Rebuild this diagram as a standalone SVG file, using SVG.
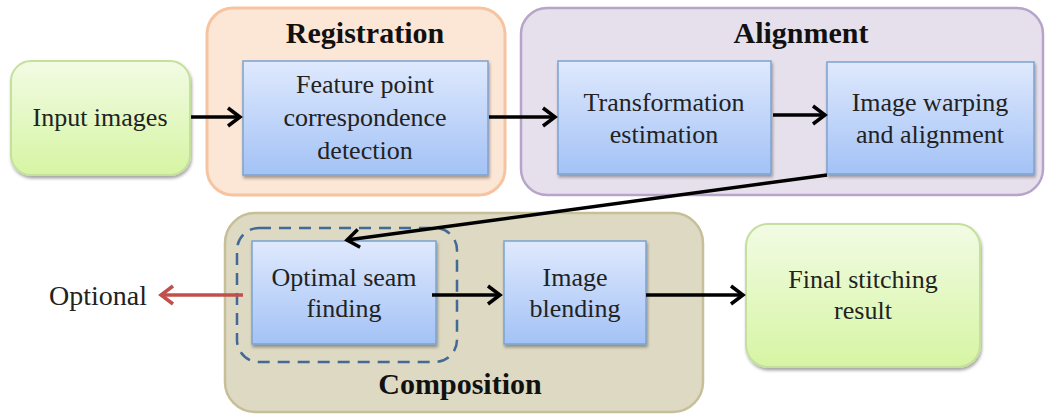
<svg xmlns="http://www.w3.org/2000/svg" width="1047" height="416" viewBox="0 0 1047 416">
<style>
  .t { font-size: 26px; fill: #222; text-anchor: middle; }
  .h { font-size: 30px; font-weight: bold; fill: #111; text-anchor: middle; }
  .blue { fill: url(#gBlue); stroke: #7ea3cf; stroke-width: 1.5; filter: url(#sh); }
  .green { fill: url(#gGreen); stroke: #c5df9c; stroke-width: 2; filter: url(#sh); }
  .conn { stroke: #000; stroke-width: 3.5; fill: none; marker-end: url(#arr); }
  .red { stroke: #c0504d; stroke-width: 3.5; fill: none; marker-end: url(#arrRed); }
</style>
<defs>
  <linearGradient id="gBlue" x1="0" y1="0" x2="0" y2="1">
    <stop offset="0" stop-color="#dfe9fd"/>
    <stop offset="1" stop-color="#a3c2f6"/>
  </linearGradient>
  <linearGradient id="gGreen" x1="0" y1="0" x2="0" y2="1">
    <stop offset="0" stop-color="#f2fbe4"/>
    <stop offset="1" stop-color="#d6f5a3"/>
  </linearGradient>
  <filter id="sh" x="-10%" y="-10%" width="120%" height="130%">
    <feDropShadow dx="1" dy="2.5" stdDeviation="1.5" flood-color="#000" flood-opacity="0.35"/>
  </filter>
  <marker id="arr" markerUnits="userSpaceOnUse" markerWidth="20" markerHeight="24" viewBox="-16 -12 20 24" refX="0" refY="0" orient="auto">
    <path d="M-12,-9 L0,0 L-12,9" fill="none" stroke="#000" stroke-width="3.5"/>
  </marker>
  <marker id="arrRed" markerUnits="userSpaceOnUse" markerWidth="20" markerHeight="24" viewBox="-16 -12 20 24" refX="0" refY="0" orient="auto">
    <path d="M-12,-9 L0,0 L-12,9" fill="none" stroke="#c0504d" stroke-width="3.5"/>
  </marker>
</defs>
<rect width="1047" height="416" fill="#ffffff"/>

<g font-family="Liberation Serif, Times New Roman, Times, serif">
<g id="registration">
  <rect x="207" y="8" width="298" height="187" rx="26" fill="#fce6d6" stroke="#f6c4a1" stroke-width="3"/>
  <text class="h" x="365" y="43">Registration</text>
</g>
<g id="alignment">
  <rect x="521" y="8" width="522" height="187" rx="26" fill="#e6e0ec" stroke="#b6a5c9" stroke-width="2.5"/>
  <text class="h" x="801" y="43">Alignment</text>
</g>
<g id="composition">
  <rect x="225" y="213" width="478" height="199" rx="30" fill="#ddd9c3" stroke="#c6bf98" stroke-width="2.5"/>
  <text class="h" x="460" y="394">Composition</text>
</g>
<g id="optional-group">
  <rect x="237" y="228" width="220" height="134" rx="22" fill="none" stroke="#426a95" stroke-width="2.5" stroke-dasharray="12 8"/>
</g>

<g id="input-images">
  <rect class="green" x="11" y="61" width="179" height="114" rx="20"/>
  <text class="t" x="100" y="126">Input images</text>
</g>
<g id="feature-point">
  <rect class="blue" x="243" y="61" width="245" height="114"/>
  <text class="t" x="365" y="93">Feature point</text>
  <text class="t" x="365" y="126">correspondence</text>
  <text class="t" x="365" y="159">detection</text>
</g>
<g id="transformation">
  <rect class="blue" x="558" y="61" width="213" height="113"/>
  <text class="t" x="664" y="111">Transformation</text>
  <text class="t" x="664" y="143">estimation</text>
</g>
<g id="image-warping">
  <rect class="blue" x="827" y="62" width="207" height="112"/>
  <text class="t" x="930" y="111">Image warping</text>
  <text class="t" x="930" y="143">and alignment</text>
</g>
<g id="optimal-seam">
  <rect class="blue" x="252" y="241" width="184" height="103"/>
  <text class="t" x="344" y="286">Optimal seam</text>
  <text class="t" x="344" y="317">finding</text>
</g>
<g id="image-blending">
  <rect class="blue" x="504" y="241" width="142" height="103"/>
  <text class="t" x="575" y="286">Image</text>
  <text class="t" x="575" y="317">blending</text>
</g>
<g id="final-result">
  <rect class="green" x="746" y="224" width="234" height="143" rx="22"/>
  <text class="t" x="863" y="288">Final stitching</text>
  <text class="t" x="863" y="319">result</text>
</g>
<g id="optional-label">
  <text class="t" x="98" y="305" style="font-size:28px">Optional</text>
</g>
</g>

<g id="connectors">
  <line class="conn" x1="191" y1="117" x2="240" y2="117"/>
  <line class="conn" x1="489" y1="117" x2="555" y2="117"/>
  <line class="conn" x1="773" y1="115" x2="825" y2="115"/>
  <line class="conn" x1="827" y1="175" x2="347" y2="240"/>
  <line class="conn" x1="432" y1="295" x2="500" y2="295"/>
  <line class="conn" x1="646" y1="295" x2="743" y2="295"/>
  <line class="red" x1="243" y1="295" x2="161" y2="295"/>
</g>
</svg>
